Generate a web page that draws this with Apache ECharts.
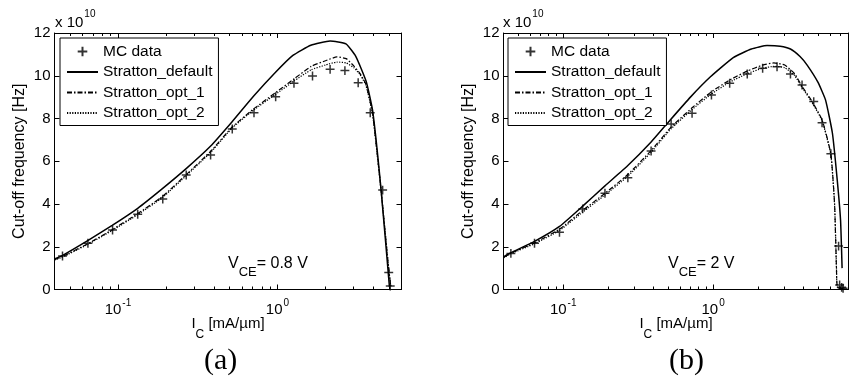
<!DOCTYPE html>
<html><head><meta charset="utf-8">
<script src="https://cdn.jsdelivr.net/npm/echarts@6/dist/echarts.min.js"></script>
<style>html,body{margin:0;padding:0;background:#fff}#c{width:849px;height:381px}</style>
</head><body><div id="c"></div>
<script>
// ---------- data (x in mA/um, y in units of 1e10 Hz) ----------
const seriesNames = ['MC data', 'Stratton_default', 'Stratton_opt_1', 'Stratton_opt_2'];
const yTicks = [0, 2, 4, 6, 8, 10, 12];
const xMajorTicks = [0.1, 1];
const xMajorExp = ['-1', '0'];

// (a) VCE = 0.8 V
const A_mc_x = [0.0449, 0.0648, 0.0925, 0.133, 0.191, 0.268, 0.381, 0.521, 0.713, 0.975, 1.27, 1.66, 2.14, 2.65, 3.21, 3.82, 4.57, 4.99, 5.1];
const A_mc_y = [1.57, 2.16, 2.78, 3.52, 4.23, 5.36, 6.29, 7.51, 8.27, 9.02, 9.65, 9.99, 10.30, 10.24, 9.67, 8.27, 4.65, 0.79, 0.16];
const A_def_x = [0.04, 0.045, 0.065, 0.092, 0.133, 0.19, 0.27, 0.38, 0.52, 0.71, 0.97, 1.25, 1.62, 2.14, 2.69, 3.1, 3.6, 3.96, 4.47, 5.04];
const A_def_y = [1.43, 1.6, 2.3, 3.0, 3.8, 4.72, 5.68, 6.7, 7.85, 9.05, 10.15, 10.95, 11.43, 11.63, 11.49, 10.91, 9.74, 8.34, 4.65, 0.13];
const A_opt_x = [0.04, 0.045, 0.065, 0.092, 0.133, 0.19, 0.27, 0.38, 0.52, 0.71, 0.97, 1.27, 1.63, 2.0, 2.36, 2.7, 3.03, 3.3, 3.59, 3.96, 4.47, 5.0, 5.15];
const A_opt1_y = [1.4, 1.55, 2.15, 2.8, 3.55, 4.35, 5.4, 6.45, 7.6, 8.45, 9.2, 9.85, 10.44, 10.7, 10.88, 10.8, 10.44, 10.1, 9.6, 8.2, 4.6, 0.9, 0.1];
const A_opt2_y = [1.38, 1.52, 2.12, 2.76, 3.5, 4.3, 5.35, 6.4, 7.55, 8.4, 9.12, 9.75, 10.28, 10.5, 10.64, 10.6, 10.36, 10.05, 9.55, 8.15, 4.6, 0.9, 0.1];

// (b) VCE = 2 V
const B_mc_x = [0.0448, 0.0644, 0.0945, 0.135, 0.19, 0.27, 0.386, 0.525, 0.724, 0.975, 1.29, 1.69, 2.14, 2.67, 3.28, 3.92, 4.69, 5.33, 6.1, 6.87, 6.98, 7.2, 7.36];
const B_mc_y = [1.69, 2.16, 2.68, 3.77, 4.5, 5.23, 6.48, 7.74, 8.24, 9.1, 9.65, 10.08, 10.35, 10.42, 10.08, 9.57, 8.79, 7.8, 6.35, 2.03, 0.21, 0.1, 0.06];
const B_def_x = [0.04, 0.0448, 0.0644, 0.0945, 0.135, 0.19, 0.27, 0.386, 0.506, 0.706, 0.96, 1.37, 1.8, 2.29, 2.8, 3.28, 3.8, 4.24, 5.0, 5.62, 6.25, 6.73, 7.08, 7.25];
const B_def_y = [1.53, 1.72, 2.25, 2.95, 3.9, 4.85, 5.8, 6.9, 7.85, 9.0, 9.95, 10.86, 11.25, 11.41, 11.38, 11.25, 10.9, 10.5, 9.7, 8.87, 7.31, 5.12, 3.25, 1.0];
const B_opt_x = [0.04, 0.0448, 0.0644, 0.0945, 0.135, 0.19, 0.27, 0.386, 0.525, 0.724, 0.975, 1.29, 1.69, 2.14, 2.54, 3.0, 3.5, 3.92, 4.5, 5.33, 6.1, 6.46, 6.65, 6.75, 7.5];
const B_opt1_y = [1.5, 1.7, 2.18, 2.82, 3.7, 4.5, 5.38, 6.5, 7.6, 8.5, 9.25, 9.8, 10.22, 10.5, 10.6, 10.5, 10.1, 9.5, 8.88, 7.94, 6.35, 4.0, 1.0, 0.1, 0.02];
const B_opt2_y = [1.48, 1.67, 2.14, 2.76, 3.62, 4.42, 5.3, 6.42, 7.52, 8.42, 9.15, 9.7, 10.1, 10.35, 10.44, 10.38, 10.0, 9.45, 8.82, 7.9, 6.3, 3.97, 1.0, 0.1, 0.02];

// ---------- chart ----------
const FONT = 'Liberation Sans, Arial, Helvetica, sans-serif';
const L = v => Math.log10(v);
const pairs = (xs, ys) => xs.map((x, i) => [L(x), ys[i]]);
const PLUS = 'path://M0,0L0,0M14,14L14,14M7,2.2L7,11.8M2.2,7L11.8,7';
const axLine = {show: true, onZero: false, lineStyle: {color: '#000', width: 1}};
const noLine = {show: false, onZero: false};
const txt = (size, extra) => Object.assign({fontSize: size, fontFamily: FONT, color: '#000', fontWeight: 'normal'}, extra || {});

function xAxes(gridIndex, lo, hi) {
  const min = L(lo), max = L(hi);
  const minors = [];
  for (let d = -2; d <= 1; d++) for (let k = 2; k <= 9; k++) {
    const v = k * Math.pow(10, d);
    if (v > lo * 1.0001 && v < hi * 0.9999) minors.push(L(v));
  }
  const majors = xMajorTicks.map(L);
  const base = {type: 'value', gridIndex, min, max, splitLine: {show: false}, axisPointer: {show: false}};
  const tick = (vals, len) => ({show: true, inside: true, length: len, customValues: vals, lineStyle: {color: '#000', width: 1}});
  return [
    Object.assign({}, base, {
      position: 'bottom', axisLine: axLine, axisTick: tick(majors, 5),
      axisLabel: {
        show: true, customValues: majors, margin: 9, color: '#000', fontFamily: FONT,
        formatter: v => {
          const i = majors.findIndex(m => Math.abs(m - v) < 1e-9);
          return '{b|10}{s|' + (i >= 0 ? xMajorExp[i] : '') + '}';
        },
        rich: {b: txt(15), s: txt(10, {padding: [0, 0, 12, 1]})}
      },
      name: '{i|I}{c|C}{n| [mA/µm]}', nameLocation: 'middle', nameGap: 17, nameMoveOverlap: false,
      nameTextStyle: {color: '#000', fontFamily: FONT, rich: {
        i: txt(15), c: txt(12, {padding: [22, 0, 0, 0]}), n: txt(15)
      }}
    }),
    Object.assign({}, base, {position: 'bottom', axisLine: noLine, axisTick: tick(minors, 3), axisLabel: {show: false}}),
    Object.assign({}, base, {position: 'top', axisLine: axLine, axisTick: tick(majors, 5), axisLabel: {show: false}}),
    Object.assign({}, base, {position: 'top', axisLine: noLine, axisTick: tick(minors, 3), axisLabel: {show: false}})
  ];
}

function yAxes(gridIndex) {
  const base = {type: 'value', gridIndex, min: yTicks[0], max: yTicks[yTicks.length - 1], interval: 2, splitLine: {show: false}};
  const tick = {show: true, inside: true, length: 5, lineStyle: {color: '#000', width: 1}};
  return [
    Object.assign({}, base, {
      position: 'left', axisLine: axLine, axisTick: tick,
      axisLabel: {fontSize: 15, color: '#000', fontFamily: FONT, margin: 4},
      name: 'Cut-off frequency [Hz]', nameLocation: 'middle', nameRotate: 90, nameGap: 27,
      nameTextStyle: txt(16)
    }),
    Object.assign({}, base, {position: 'right', axisLine: axLine, axisTick: tick, axisLabel: {show: false}})
  ];
}

function panelSeries(xi, yi, mcx, mcy, dx, dy, ox, o1, o2) {
  return [
    {name: seriesNames[0], type: 'scatter', xAxisIndex: xi, yAxisIndex: yi, data: pairs(mcx, mcy),
     symbol: PLUS, symbolSize: 13, itemStyle: {color: 'transparent', borderColor: '#000', borderWidth: 1.5}, z: 5},
    {name: seriesNames[1], type: 'line', xAxisIndex: xi, yAxisIndex: yi, data: pairs(dx, dy), color: '#000',
     symbol: 'none', smooth: 0.15, itemStyle: {color: '#000'}, lineStyle: {color: '#000', width: 1.5, type: 'solid'}},
    {name: seriesNames[2], type: 'line', xAxisIndex: xi, yAxisIndex: yi, data: pairs(ox, o1), color: '#000',
     symbol: 'none', smooth: 0.15, itemStyle: {color: '#000'}, lineStyle: {color: '#000', width: 1.2, type: [5, 2, 1.5, 2]}},
    {name: seriesNames[3], type: 'line', xAxisIndex: xi, yAxisIndex: yi, data: pairs(ox, o2), color: '#000',
     symbol: 'none', smooth: 0.15, itemStyle: {color: '#000'}, lineStyle: {color: '#000', width: 1.2, type: [1.2, 1.4]}}
  ];
}

function legendAt(left, top) {
  return {
    left, top, orient: 'vertical', selectedMode: false,
    data: seriesNames.map((n, i) => i === 0 ? {name: n} : {name: n, itemStyle: {opacity: 0}}),
    backgroundColor: '#fff', borderColor: '#000', borderWidth: 1, borderRadius: 0,
    padding: [5, 6, 4, 6], itemGap: 3.5, itemWidth: 31, itemHeight: 14,
    textStyle: txt(15.5, {lineHeight: 17})
  };
}

function expTitle(left) {
  return {left, top: 9, padding: 0, text: '{a|x 10}{s|10}',
    textStyle: {fontWeight: 'normal', rich: {a: txt(15), s: txt(10, {padding: [0, 0, 18, 1]})}}};
}
function vceTitle(left, t) {
  return {left, top: 249, padding: 0, text: '{v|V}{c|CE}{r|' + t + '}',
    textStyle: {fontWeight: 'normal', rich: {v: txt(16), c: txt(13, {padding: [17, 0, 0, 0]}), r: txt(16)}}};
}
function capTitle(left, t) {
  return {left, top: 346, padding: 0, text: t,
    textStyle: {fontSize: 30, fontWeight: 'normal', fontFamily: 'Liberation Serif, Times New Roman, serif', color: '#000'}};
}

const option = {
  animation: false,
  backgroundColor: '#fff',
  grid: [
    {left: 54.5, top: 33, width: 347, height: 256.5, containLabel: false},
    {left: 503.5, top: 33, width: 345, height: 256.5, containLabel: false}
  ],
  xAxis: xAxes(0, 0.04, 6).concat(xAxes(1, 0.04, 8)),
  yAxis: yAxes(0).concat(yAxes(1)),
  legend: [legendAt(60, 38), legendAt(508, 38)],
  title: [expTitle(55), expTitle(503), vceTitle(228, '= 0.8 V'), vceTitle(668, '= 2 V'), capTitle(204, '(a)'), capTitle(669, '(b)')],
  series: panelSeries(0, 0, A_mc_x, A_mc_y, A_def_x, A_def_y, A_opt_x, A_opt1_y, A_opt2_y)
    .concat(panelSeries(4, 2, B_mc_x, B_mc_y, B_def_x, B_def_y, B_opt_x, B_opt1_y, B_opt2_y))
};

const chart = echarts.init(document.getElementById('c'), null, {renderer: 'canvas'});
chart.setOption(option);
</script>
</body></html>
